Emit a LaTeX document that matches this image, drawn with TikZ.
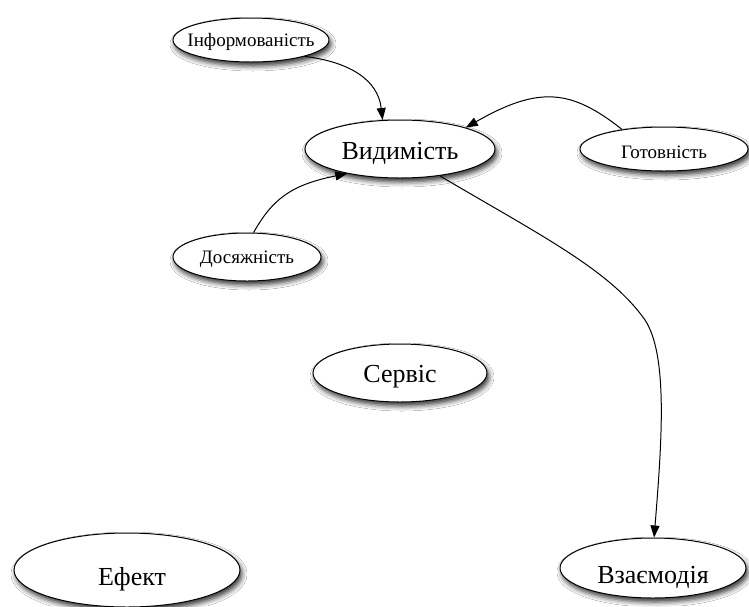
\documentclass[tikz,border=0pt]{standalone}
\usepackage{fontspec}
\setmainfont{Liberation Serif}
\newfontfamily\lblfont{Liberation Serif}
\usetikzlibrary{shapes.geometric,arrows.meta,shadows.blur}

\tikzset{
  concept/.style={ellipse, draw=black, line width=1pt, fill=white, inner sep=0pt,
    blur shadow={shadow xshift=2pt, shadow yshift=-4pt, shadow blur radius=5pt, shadow opacity=80}},
  bigtxt/.style={font=\lblfont\fontsize{26}{30}\selectfont, inner sep=0pt},
  smalltxt/.style={font=\lblfont\fontsize{19}{22}\selectfont, inner sep=0pt},
  link/.style={line width=1pt, -{Triangle[length=12pt,width=9pt]}},
}

\begin{document}
\begin{tikzpicture}[x=1pt, y=-1pt]
  \fill[white] (0,0) rectangle (749,606);
  \useasboundingbox (0,0) rectangle (749,606);

  % concepts
  \node[concept, minimum width=156pt, minimum height=44pt,
        label={[smalltxt, yshift=-2pt]center:Інформованість}] (inf) at (251,40) {};
  \node[concept, minimum width=190pt, minimum height=58pt,
        label={[bigtxt, yshift=-4pt]center:Видимість}] (vid) at (400,149) {};
  \node[concept, minimum width=168pt, minimum height=44pt,
        label={[smalltxt, yshift=-3pt]center:Готовність}] (got) at (664,149) {};
  \node[concept, minimum width=148pt, minimum height=48pt,
        label={[smalltxt, yshift=-2pt]center:Досяжність}] (dos) at (247,257) {};
  \node[concept, minimum width=174pt, minimum height=58pt,
        label={[bigtxt, yshift=-4pt]center:Сервіс}] (ser) at (400,373) {};
  \node[concept, minimum width=226pt, minimum height=74pt,
        label={[bigtxt, xshift=5pt, yshift=-9pt]center:Ефект}] (ef) at (127,570) {};
  \node[concept, minimum width=186pt, minimum height=60pt,
        label={[bigtxt, yshift=-9pt]center:Взаємодія}] (vz) at (653,568) {};

  % influences
  \draw[link] (inf.-17) .. controls (350,62) and (378,80) .. (vid.121);
  \draw[link] (got.155) .. controls (572,90) and (540,85) .. (vid.18);
  \draw[link] (dos.75) .. controls (272,200) and (290,185) .. (vid.-155);
  \draw[link] (vid.-34) .. controls (540,235) and (610,270) .. (645,320)
                         .. controls (668,355) and (662,440) .. (vz.88);
\end{tikzpicture}
\end{document}
